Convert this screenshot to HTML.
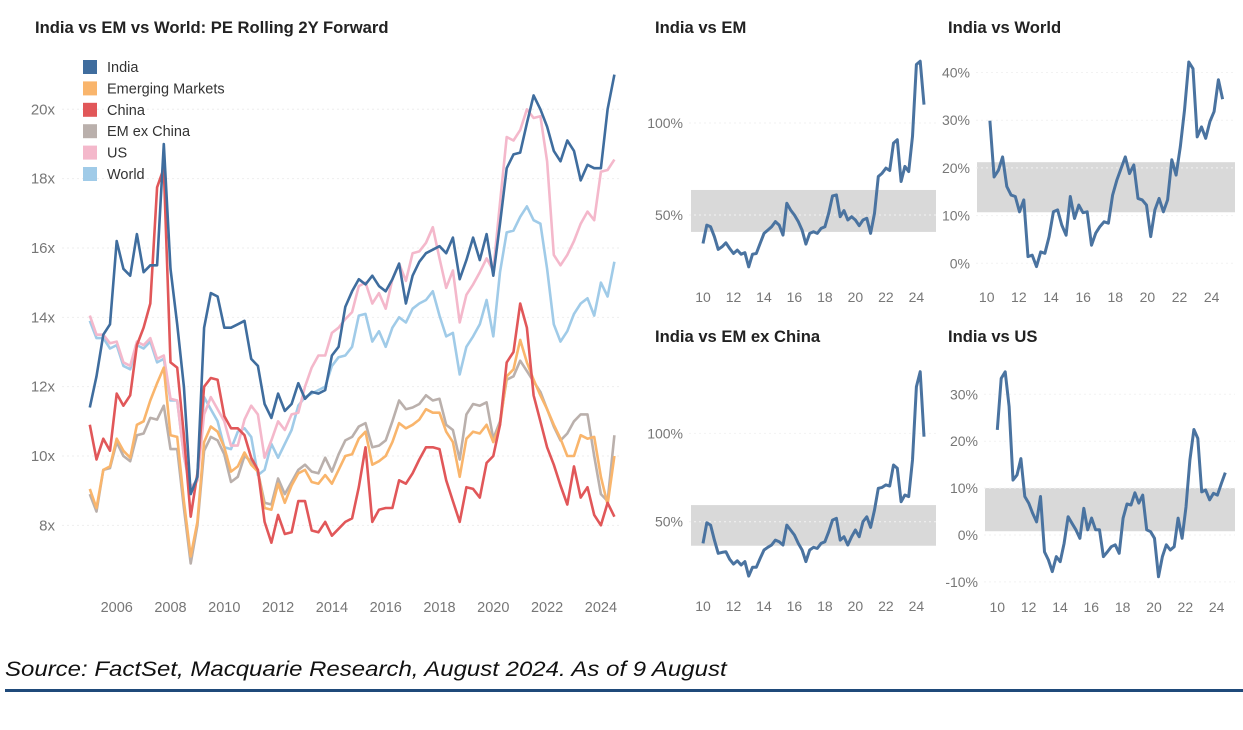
<!DOCTYPE html>
<html><head><meta charset="utf-8"><style>
body{margin:0;background:#fff;width:1243px;height:730px;overflow:hidden;font-family:"Liberation Sans",sans-serif}
svg{position:absolute;left:0;top:0}
</style></head><body>
<svg id="s" width="1243" height="730">
<text x="35" y="33" font-size="16.6" font-weight="bold" fill="#222">India vs EM vs World: PE Rolling 2Y Forward</text>
<text x="655" y="33" font-size="16.6" font-weight="bold" fill="#222">India vs EM</text>
<text x="948" y="33" font-size="16.6" font-weight="bold" fill="#222">India vs World</text>
<text x="655" y="342" font-size="16.6" font-weight="bold" fill="#222">India vs EM ex China</text>
<text x="948" y="342" font-size="16.6" font-weight="bold" fill="#222">India vs US</text>
<text x="5" y="676" font-size="24" font-style="italic" fill="#111" transform="translate(0,676) scale(1,0.9) translate(0,-676)">Source: FactSet, Macquarie Research, August 2024. As of 9 August</text>
<rect x="5" y="689" width="1238" height="3" fill="#1f4a7a"/>
</svg>
<script>
// ---- main chart data (quarterly from 2005.0) ----
const mainYTicks=[8,10,12,14,16,18,20];
const mainXTicks=[2006,2008,2010,2012,2014,2016,2018,2020,2022,2024];
const seriesNames=["India","Emerging Markets","China","EM ex China","US","World"];
const india=[11.4,12.3,13.5,13.8,16.2,15.4,15.2,16.4,15.3,15.5,15.5,19.0,15.4,13.8,12.0,8.9,9.4,13.7,14.7,14.6,13.7,13.7,13.8,13.9,12.8,12.6,11.5,11.1,11.8,11.3,11.5,12.1,11.65,11.85,11.8,11.9,12.9,13.15,14.3,14.75,15.1,14.95,15.2,14.9,14.75,15.1,15.55,14.4,15.2,15.6,15.85,15.95,16.05,15.85,16.3,15.1,15.65,16.3,15.65,16.4,15.2,16.7,18.3,18.7,18.75,19.6,20.4,20.0,19.5,18.8,18.5,19.1,18.8,17.95,18.4,18.3,18.3,20.0,21.0];
const em=[9.05,8.5,9.6,9.7,10.5,10.15,9.95,10.9,11.0,11.6,12.1,12.55,10.6,10.55,8.7,7.1,8.1,10.4,10.85,10.7,10.25,9.55,9.7,10.1,9.75,9.55,8.5,8.45,9.2,8.65,9.15,9.5,9.6,9.25,9.2,9.45,9.2,9.6,10.0,10.05,10.5,10.7,9.75,9.85,10.0,10.4,10.95,10.8,10.9,11.05,11.35,11.25,11.25,10.7,10.4,9.4,10.5,10.7,10.65,10.9,10.4,10.9,12.3,12.5,13.35,12.7,12.2,11.75,11.35,10.9,10.5,10.0,10.0,10.6,10.5,10.55,9.4,8.6,10.0];
const china=[10.9,9.9,10.5,10.15,11.8,11.45,11.75,13.2,13.7,14.4,17.75,18.3,12.7,12.55,10.6,8.25,9.5,12.0,12.25,12.2,11.15,10.8,10.8,10.6,9.95,9.6,8.1,7.5,8.3,7.75,7.8,8.7,8.7,7.85,7.8,8.1,7.7,7.9,8.1,8.2,9.1,10.25,8.1,8.45,8.5,8.5,9.3,9.2,9.5,9.9,10.25,10.25,10.2,9.3,8.7,8.1,9.1,9.05,8.8,9.8,10.0,10.9,12.7,13.0,14.4,13.7,11.75,11.0,10.25,9.75,9.15,8.6,9.7,8.8,9.1,8.3,8.0,8.65,8.25];
const emxc=[8.9,8.4,9.6,9.65,10.4,10.0,9.85,10.6,10.65,11.1,11.05,11.45,10.2,10.2,8.5,6.9,8.0,10.15,10.55,10.45,10.05,9.25,9.4,10.0,9.85,9.55,8.65,8.6,9.35,8.9,9.25,9.6,9.75,9.55,9.5,9.95,9.55,10.05,10.45,10.55,10.85,10.95,10.25,10.3,10.45,11.0,11.6,11.35,11.4,11.5,11.75,11.6,11.65,10.9,10.75,9.9,11.2,11.5,11.45,11.55,10.5,11.0,12.2,12.3,12.75,12.45,12.15,11.85,11.35,10.85,10.45,10.65,11.0,11.2,11.2,10.0,8.9,8.7,10.6];
const us=[14.05,13.5,13.5,13.25,13.3,12.7,12.6,13.3,13.2,13.4,12.8,12.9,11.65,11.6,10.0,9.1,9.3,11.2,11.7,11.35,11.0,10.3,10.3,11.05,11.45,11.2,9.95,10.45,11.0,10.75,11.2,11.25,12.0,12.55,12.9,12.9,13.55,13.7,13.95,14.15,14.9,15.0,14.4,14.7,14.25,15.1,15.55,15.05,15.85,15.9,16.15,16.6,15.7,14.85,15.35,13.85,14.65,14.95,15.3,15.7,15.35,17.3,19.2,19.1,19.4,20.0,19.75,19.8,18.5,15.8,15.5,15.8,16.2,16.7,17.05,16.8,18.2,18.25,18.55];
const world=[13.9,13.4,13.4,13.1,13.2,12.6,12.5,13.2,13.1,13.3,12.7,12.8,11.6,11.6,10.0,9.0,9.3,11.7,11.35,11.0,10.25,10.2,10.7,10.8,10.55,9.45,9.6,10.35,9.95,10.35,10.75,11.45,11.7,11.8,11.9,12.0,12.6,12.85,12.9,13.15,14.05,14.1,13.3,13.6,13.15,13.7,14.0,13.85,14.25,14.4,14.5,14.75,14.05,13.45,13.55,12.35,13.15,13.45,13.8,14.5,13.45,15.3,16.45,16.5,16.9,17.2,16.8,16.7,15.4,13.8,13.3,13.6,14.1,14.4,14.55,14.05,15.0,14.6,15.6];
const mainStartYear=2005;
// ---- small charts data (quarterly) ----
const emPrem=[34.5,44.5,43.6,38.2,31.3,32.7,34.9,31.8,29.1,30.9,28.7,29.5,21.8,28.7,29.1,34.5,40.0,41.8,43.6,46.4,44.5,39.1,56.4,52.7,50.0,46.4,41.8,34.2,40.0,40.9,40.0,42.7,43.6,50.9,60.4,60.9,49.1,52.4,47.3,49.1,47.3,44.2,47.3,48.2,40.0,50.9,70.9,72.7,75.5,74.2,89.1,90.9,68.2,76.4,73.6,92.7,131.8,133.6,110];
const worldPrem=[29.9,18.1,19.5,22.3,16.1,14.3,14.0,10.8,13.3,1.4,1.7,-0.7,2.4,2.1,5.6,10.8,11.2,8.0,5.9,14.0,9.4,12.2,10.6,10.8,3.8,6.3,7.7,8.7,8.4,14.3,17.4,19.9,22.3,18.8,20.6,13.6,13.3,12.2,5.6,11.2,13.6,10.8,13.3,21.7,18.5,24.4,32.1,42.2,40.8,26.5,28.6,26.2,29.7,31.8,38.5,34.4];
const emxcPrem=[37.7,49.4,48.1,39.6,32.1,32.6,33.0,28.7,26.0,27.9,25.5,27.4,19.2,24.2,24.2,29.2,34.0,35.5,36.8,39.6,38.7,36.8,48.1,45.3,42.5,37.7,34.0,27.4,34.0,35.5,34.9,37.7,38.7,44.3,50.9,51.9,39.6,41.5,36.8,41.5,45.3,41.5,50.0,52.8,46.8,56.6,68.9,69.4,70.8,70.2,82.1,80.2,61.3,65.1,64.2,84.9,126.4,134.9,98.1];
const usPrem=[22.4,33.4,34.8,27.4,11.7,12.8,16.3,8.2,6.8,4.6,2.8,8.2,-3.6,-5.3,-7.8,-4.6,-5.7,-1.8,3.9,2.5,1.1,-0.7,5.7,1.1,3.6,1.1,1.1,-4.6,-3.6,-2.5,-2.1,-3.9,3.6,6.6,6.4,9.0,6.8,8.5,1.1,0.7,-0.7,-8.9,-4.6,-2.1,-3.2,-2.5,3.6,-0.7,6.0,16.0,22.5,20.6,9.2,9.6,7.5,8.9,8.5,11.0,13.3];
const emBand=[40.8,63.6], worldBand=[10.7,21.2], emxcBand=[36.4,59.4], usBand=[0.8,10];
const emTicks=[50,100], worldTicks=[0,10,20,30,40], emxcTicks=[50,100], usTicks=[-10,0,10,20,30];
const smallXTicks=[10,12,14,16,18,20,22,24];

const NS="http://www.w3.org/2000/svg";
const svg=document.getElementById('s');
function mk(tag,attrs,parent){const e=document.createElementNS(NS,tag);for(const k in attrs)e.setAttribute(k,attrs[k]);(parent||svg).appendChild(e);return e;}

const mx=yr=>116.7+(yr-2006)*26.9;
const my=v=>456-(v-10)*34.67;
mainYTicks.forEach(t=>{
  const g=mk('line',{x1:62,x2:620,y1:my(t),y2:my(t),stroke:'#eee','stroke-dasharray':'2,3'});
  
  
  const l=mk('text',{x:55,y:my(t)+5,'text-anchor':'end','font-size':15,fill:'#777'});
  l.textContent=t+'x';
  
  
});
mainXTicks.forEach(t=>{
  const l=mk('text',{x:mx(t),y:612,'text-anchor':'middle','font-size':14.5,fill:'#777'});
  l.textContent=t;
  
  
});
const colors={"India":"#3f6d9e","Emerging Markets":"#f9b56c","China":"#e15759","EM ex China":"#bab0ac","US":"#f4b8cb","World":"#a0cbe8"};
const dataMap={"India":india,"Emerging Markets":em,"China":china,"EM ex China":emxc,"US":us,"World":world};
["World","US","EM ex China","Emerging Markets","China","India"].forEach(n=>{
  const arr=dataMap[n];
  const pts=arr.map((v,i)=>mx(mainStartYear+i*0.25).toFixed(1)+','+my(v).toFixed(1)).join(' ');
  const p=mk('polyline',{points:pts,fill:'none',stroke:colors[n],'stroke-width':2.6,'stroke-linejoin':'round'});
  
  
});
seriesNames.forEach((n,i)=>{
  const y=67+i*21.4;
  const r=mk('rect',{x:83,y:y-7,width:14,height:14,fill:colors[n]});
  
  
  const t=mk('text',{x:107,y:y+5,'font-size':14.5,fill:'#333'});
  t.textContent=n;
  
  
});

function small(cfg){
  const {vals,band,ticks,x0,pxYr,vy,labX,bandX0,bandX1,xLabY,start,end,name}=cfg;
  const xf=yr=>x0+(yr-10)*pxYr;
  const b=mk('rect',{x:bandX0,y:vy(band[1]),width:bandX1-bandX0,height:vy(band[0])-vy(band[1]),fill:'#d9d9d9'});
  
  
  ticks.forEach(t=>{
    const g=mk('line',{x1:labX+6,x2:bandX1,y1:vy(t),y2:vy(t),stroke:'#f2f2f2','stroke-dasharray':'2,3'});
    
    
    const l=mk('text',{x:labX,y:vy(t)+5,'text-anchor':'end','font-size':14,fill:'#777'});
    l.textContent=t+'%';
    
    
  });
  smallXTicks.forEach(t=>{
    const l=mk('text',{x:xf(t),y:xLabY,'text-anchor':'middle','font-size':14,fill:'#777'});
    l.textContent=t;
    
    
  });
  const step=(end-start)/(vals.length-1);
  const pts=vals.map((v,i)=>xf(start+i*step).toFixed(1)+','+vy(v).toFixed(1)).join(' ');
  const p=mk('polyline',{points:pts,fill:'none',stroke:'#4a73a0','stroke-width':3,'stroke-linejoin':'round'});
  
  
}
small({name:'india-vs-em',vals:emPrem,band:emBand,ticks:emTicks,x0:703,pxYr:15.24,vy:v=>215-(v-50)*1.84,labX:683,bandX0:691,bandX1:936,xLabY:302,start:10,end:24.5});
small({name:'india-vs-world',vals:worldPrem,band:worldBand,ticks:worldTicks,x0:986.7,pxYr:16.07,vy:v=>263.3-v*4.77,labX:970,bandX0:977,bandX1:1235,xLabY:302,start:10.2,end:24.68});
small({name:'india-vs-em-ex-china',vals:emxcPrem,band:emxcBand,ticks:emxcTicks,x0:703,pxYr:15.24,vy:v=>521.7-(v-50)*1.767,labX:683,bandX0:691,bandX1:936,xLabY:611,start:10,end:24.5});
small({name:'india-vs-us',vals:usPrem,band:usBand,ticks:usTicks,x0:997.3,pxYr:15.67,vy:v=>535-v*4.69,labX:978,bandX0:985,bandX1:1235,xLabY:612,start:10,end:24.55});
</script>
</body></html>
